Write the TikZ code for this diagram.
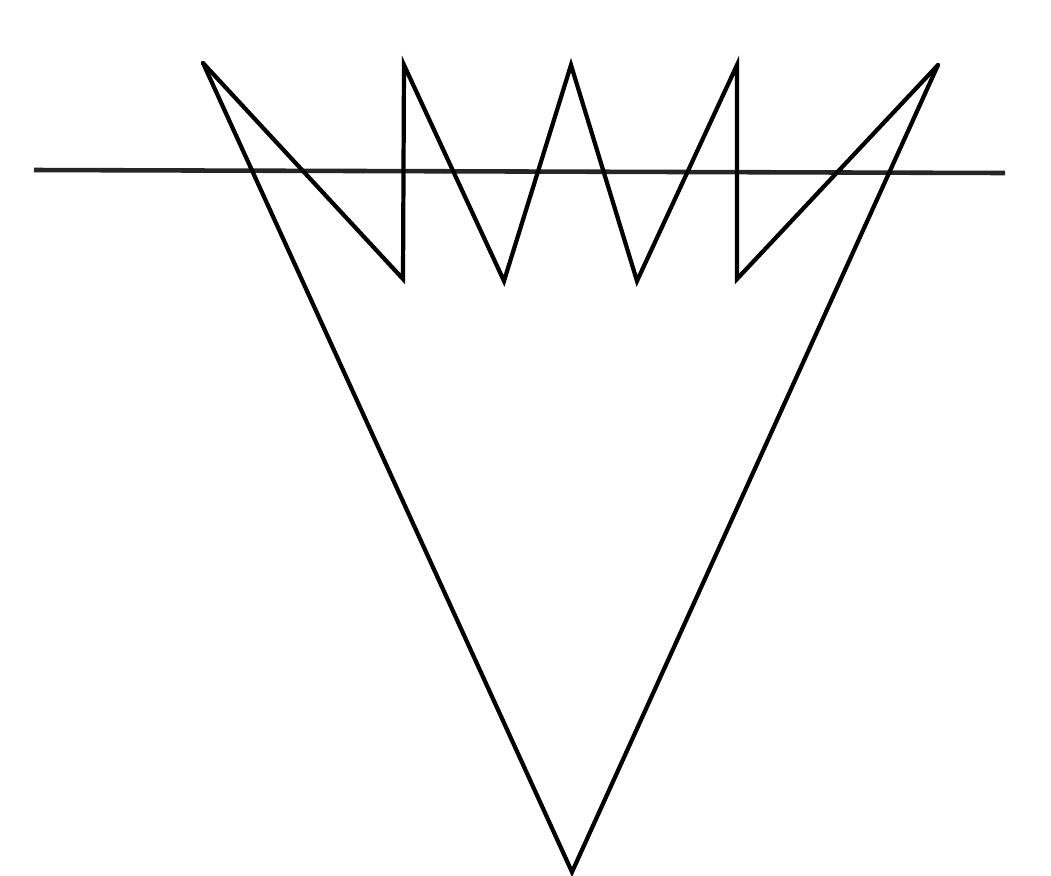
\documentclass[tikz,border=0pt]{standalone}
\usepackage{tikz}
\usetikzlibrary{calc}
\tikzset{
  stroke/.style={draw=black, line width=1.2pt, line join=miter, line cap=round},
  baseline/.style={draw=black!85, line width=1.3pt}
}

\begin{document}
\begin{tikzpicture}[x=0.01cm, y=-0.01cm]

% frame
\useasboundingbox[fill=white] (0,0) rectangle (1051,875);

% zigzag corners
\coordinate (tl) at (203,63);
\coordinate (b1) at (403,279);
\coordinate (t1) at (404,65);
\coordinate (b2) at (504,281);
\coordinate (t2) at (571,65);
\coordinate (b3) at (637,281);
\coordinate (t3) at (737,65);
\coordinate (b4) at (737,279);
\coordinate (tr) at (938,65);
\coordinate (apex) at (572,872);

% horizontal line
\coordinate (hl) at (34,170);
\coordinate (hr) at (1005,173);
\draw[baseline] (hl) -- (hr);

% zigzag
\draw[stroke] (tl) -- (b1) -- (t1) -- (b2) -- (t2) -- (b3) -- (t3) -- (b4) -- (tr);

% big V
\draw[stroke] (tl) -- (apex) -- (tr);

\end{tikzpicture}
\end{document}
